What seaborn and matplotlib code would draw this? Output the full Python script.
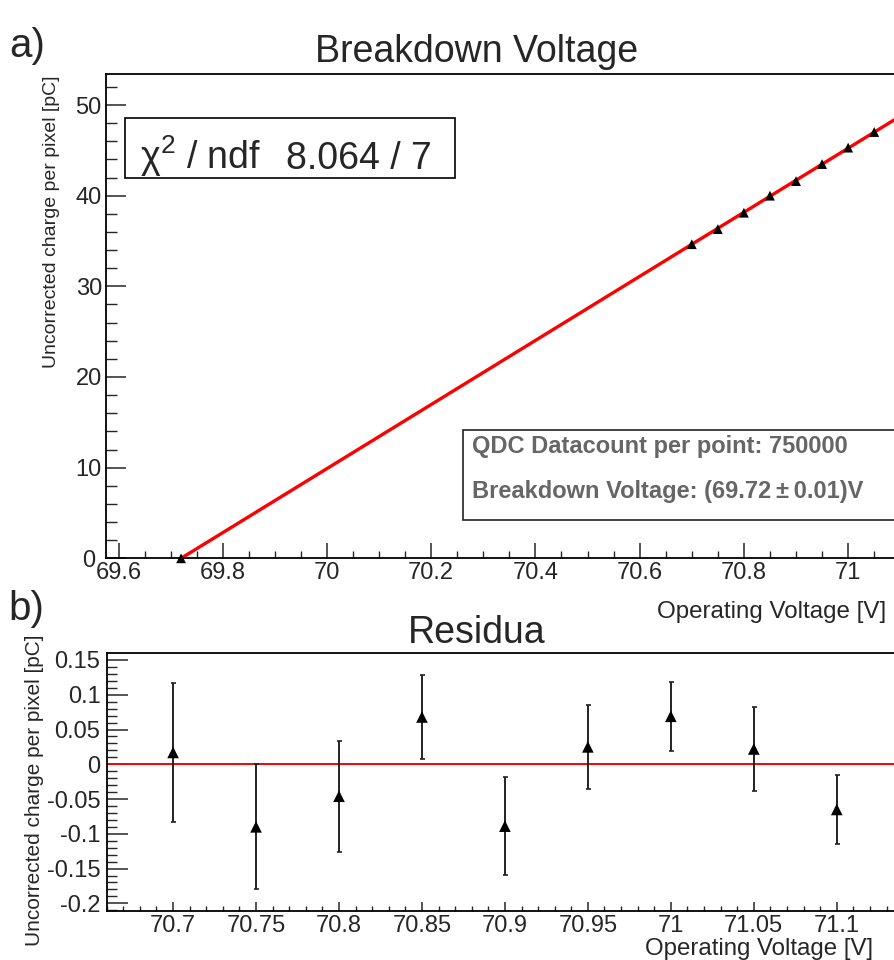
import numpy as np
import pandas as pd
import matplotlib
matplotlib.use("Agg")
import matplotlib.pyplot as plt
import seaborn as sns
from matplotlib.ticker import MultipleLocator, FuncFormatter
from matplotlib.patches import Rectangle
from matplotlib.transforms import ScaledTranslation

# ---------------- data ----------------
voltage = [70.70, 70.75, 70.80, 70.85, 70.90, 70.95, 71.00, 71.05, 71.10]
charge = [34.65, 36.31, 38.12, 40.00, 41.61, 43.49, 45.30, 47.02, 48.70]
breakdown_v = [69.72]
breakdown_q = [0.0]
fit_slope = 35.34          # pC / V
fit_x0 = 69.72             # V, zero crossing of the fit
residual = [0.017, -0.090, -0.046, 0.068, -0.089, 0.025, 0.069, 0.022, -0.065]
residual_err = [0.100, 0.090, 0.080, 0.060, 0.070, 0.060, 0.050, 0.060, 0.050]

chi2_name = r"$\mathrm{\chi}^{2}$ / ndf"
chi2_value = "8.064 / 7"
stats_lines = ["QDC Datacount per point: 750000",
               "Breakdown Voltage: (69.72\u2009\u00b1\u20090.01)V"]
ylabel = "Uncorrected charge per pixel [pC]"
xlabel = "Operating Voltage [V]"

# ---------------- style ----------------
sns.set_style("ticks")
plt.rcParams["font.family"] = ["Liberation Sans", "DejaVu Sans"]
plt.rcParams["mathtext.fontset"] = "custom"
plt.rcParams["mathtext.rm"] = "Liberation Sans"
plt.rcParams["mathtext.it"] = "Liberation Sans"
plt.rcParams["mathtext.bf"] = "Liberation Sans:bold"
plt.rcParams["axes.unicode_minus"] = False

W, H = 894, 960
fig = plt.figure(figsize=(W / 100, H / 100), dpi=100)
fx = lambda px: px / W
fy = lambda py: 1 - py / H


def fmt(v, pos):
    r = round(v, 4)
    if abs(r) < 1e-9:
        r = 0.0
    return f"{r:g}"


# ---------------- top panel ----------------
ax1 = fig.add_axes([fx(106), fy(558.3), fx(894) - fx(106), fy(74) - fy(558.3)])
fit_df = pd.DataFrame({"V": [fit_x0, voltage[-1]]})
fit_df["Q"] = fit_slope * (fit_df["V"] - fit_x0)
sns.lineplot(data=fit_df, x="V", y="Q", color="#ff0000", lw=2.4, ax=ax1, zorder=2)
pts = pd.DataFrame({"V": voltage, "Q": charge})
sns.scatterplot(data=pts, x="V", y="Q", marker="^", s=50, color="black",
                edgecolor="none", ax=ax1, zorder=3)
bd = pd.DataFrame({"V": breakdown_v, "Q": breakdown_q})
sns.scatterplot(data=bd, x="V", y="Q", marker="^", s=50, color="black",
                edgecolor="none", ax=ax1, zorder=3, clip_on=False)

ax1.set_xlim(69.576, 71.088)
ax1.set_ylim(0, 53.42)
ax1.xaxis.set_major_locator(MultipleLocator(0.2))
ax1.xaxis.set_minor_locator(MultipleLocator(0.05))
ax1.yaxis.set_major_locator(MultipleLocator(10))
ax1.yaxis.set_minor_locator(MultipleLocator(2))
ax1.xaxis.set_major_formatter(FuncFormatter(fmt))
ax1.yaxis.set_major_formatter(FuncFormatter(fmt))
ax1.tick_params(axis="x", which="major", direction="in", length=10.8, width=1.1,
                pad=2.5, labelsize=17)
ax1.tick_params(axis="x", which="minor", direction="in", length=5.4, width=1.0)
ax1.tick_params(axis="y", which="major", direction="in", length=14.4, width=1.1,
                pad=3, labelsize=17)
ax1.tick_params(axis="y", which="minor", direction="in", length=8, width=1.0)
ax1.set_xlabel("")
ax1.set_ylabel("")
ax1.spines["right"].set_visible(False)
for s in ["left", "bottom", "top"]:
    ax1.spines[s].set_linewidth(1.3)
    ax1.spines[s].set_color("black")

# ---------------- bottom panel ----------------
ax2 = fig.add_axes([fx(106.7), fy(910.7), fx(894) - fx(106.7), fy(653.3) - fy(910.7)])
ax2.axhline(0, color="#ff0000", lw=1.4, zorder=1)
ax2.errorbar(voltage, residual, yerr=residual_err, fmt="none", ecolor="#222222",
             elinewidth=1.4, capsize=1.8, capthick=1.2, zorder=2)
res = pd.DataFrame({"V": voltage, "R": residual})
sns.scatterplot(data=res, x="V", y="R", marker="^", s=70, color="black",
                edgecolor="none", ax=ax2, zorder=3)
ax2.set_xlim(70.66, 71.1345)
ax2.set_ylim(-0.2106, 0.1596)
ax2.xaxis.set_major_locator(MultipleLocator(0.05))
ax2.xaxis.set_minor_locator(MultipleLocator(0.01))
ax2.yaxis.set_major_locator(MultipleLocator(0.05))
ax2.yaxis.set_minor_locator(MultipleLocator(0.01))
ax2.xaxis.set_major_formatter(FuncFormatter(fmt))
ax2.yaxis.set_major_formatter(FuncFormatter(fmt))
ax2.tick_params(axis="x", which="major", direction="in", length=6.5, width=1.1,
                pad=3, labelsize=17)
ax2.tick_params(axis="x", which="minor", direction="in", length=3.4, width=1.0)
ax2.tick_params(axis="y", which="major", direction="in", length=15, width=1.1,
                pad=4.5, labelsize=17)
ax2.tick_params(axis="y", which="minor", direction="in", length=7.2, width=1.0)
ax2.set_xlabel("")
ax2.set_ylabel("")
ax2.spines["right"].set_visible(False)
for s in ["left", "bottom", "top"]:
    ax2.spines[s].set_linewidth(1.3)
    ax2.spines[s].set_color("black")

# shift the "0" label of the top panel left, as ROOT does, to clear "69.6"
fig.canvas.draw()
for lbl in ax1.yaxis.get_majorticklabels():
    if lbl.get_text() == "0":
        lbl.set_transform(lbl.get_transform() +
                          ScaledTranslation(-7 / 100, 0, fig.dpi_scale_trans))

# ---------------- texts ----------------
fig.text(fx(9), fy(57), "a)", fontsize=29, va="baseline", ha="left")
fig.text(fx(477), fy(62), "Breakdown Voltage", fontsize=27, va="baseline", ha="center")
fig.text(fx(886.7), fy(618), xlabel, fontsize=17.4, va="baseline", ha="right")
fig.text(fx(52), fy(221.5), ylabel, fontsize=14, rotation=90, va="center", ha="center")

fig.text(fx(8), fy(620), "b)", fontsize=29, va="baseline", ha="left")
fig.text(fx(477), fy(643), "Residua", fontsize=27, va="baseline", ha="center")
fig.text(fx(872.7), fy(955), xlabel, fontsize=17.3, va="baseline", ha="right")
fig.text(fx(35), fy(790), ylabel, fontsize=15, rotation=90, va="center", ha="center")

# chi2 box
fig.patches.append(Rectangle((fx(125), fy(178.3)), fx(455) - fx(125), fy(118.3) - fy(178.3),
                             transform=fig.transFigure, facecolor="white",
                             edgecolor="black", lw=1.2, zorder=5))
fig.text(fx(140), fy(169), chi2_name, fontsize=27, va="baseline", ha="left", zorder=6)
fig.text(fx(432), fy(169), chi2_value, fontsize=27, va="baseline", ha="right", zorder=6)

# stats box
fig.patches.append(Rectangle((fx(463.3), fy(520)), fx(900) - fx(463.3), fy(430) - fy(520),
                             transform=fig.transFigure, facecolor="white",
                             edgecolor="#222222", lw=1.2, zorder=5))
fig.text(fx(471.7), fy(453.3), stats_lines[0], fontsize=17, fontweight="bold",
         color="#666666", va="baseline", ha="left", zorder=6)
fig.text(fx(471.7), fy(497.7), stats_lines[1], fontsize=17, fontweight="bold",
         color="#666666", va="baseline", ha="left", zorder=6)

fig.savefig("out.png", dpi=100)
